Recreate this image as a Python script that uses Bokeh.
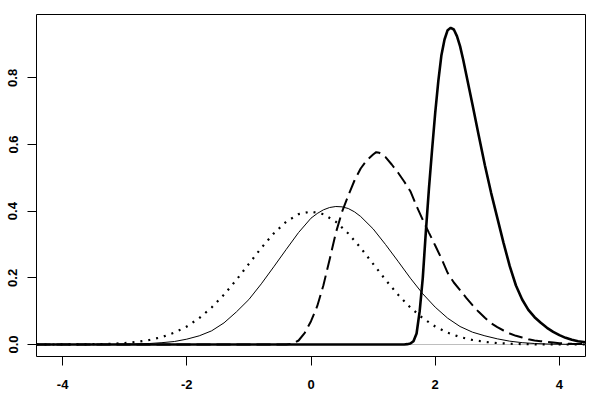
from bokeh.plotting import figure
from bokeh.models import FixedTicker, Range1d, Span
from bokeh.embed import file_html
from bokeh.resources import INLINE

# --- data ---
x_dotted = [-4.42, -4.0, -3.8, -3.6, -3.4, -3.2, -3.0, -2.8, -2.6, -2.4, -2.2, -2.0, -1.8, -1.6, -1.4,
            -1.2, -1.0, -0.8, -0.6, -0.4, -0.2, 0.0, 0.2, 0.4, 0.6, 0.8, 1.0, 1.2, 1.4, 1.6, 1.8,
            2.0, 2.2, 2.4, 2.6, 2.8, 3.0, 3.2, 3.4, 3.6, 3.8, 4.0, 4.42]
y_dotted = [0.0, 0.0001, 0.0003, 0.0006, 0.0012, 0.0024, 0.0044, 0.0079, 0.0136, 0.0224, 0.0355, 0.054,
            0.079, 0.1109, 0.1497, 0.1942, 0.242, 0.2897, 0.3332, 0.3683, 0.391, 0.3989, 0.391, 0.3683,
            0.3332, 0.2897, 0.242, 0.1942, 0.1497, 0.1109, 0.079, 0.054, 0.0355, 0.0224, 0.0136, 0.0079,
            0.0044, 0.0024, 0.0012, 0.0006, 0.0003, 0.0001, 0.0]

x_thin = [-4.42, -3.2, -3.0, -2.8, -2.6, -2.4, -2.2, -2.0, -1.8, -1.6, -1.4, -1.2, -1.0, -0.8, -0.6,
          -0.4, -0.2, 0.0, 0.1, 0.2, 0.3, 0.4, 0.5, 0.6, 0.7, 0.8, 1.0, 1.2, 1.4, 1.6, 1.8, 2.0,
          2.2, 2.4, 2.6, 2.8, 3.0, 3.2, 3.4, 3.6, 3.8, 4.0, 4.2, 4.42]
y_thin = [0.0, 0.0003, 0.0008, 0.0016, 0.003, 0.0055, 0.009, 0.016, 0.026, 0.041, 0.065, 0.098,
          0.135, 0.182, 0.233, 0.285, 0.336, 0.379, 0.393, 0.404, 0.411, 0.414, 0.413, 0.408,
          0.398, 0.384, 0.347, 0.3, 0.25, 0.199, 0.152, 0.112, 0.079, 0.054, 0.037, 0.026, 0.017,
          0.010, 0.0055, 0.003, 0.0015, 0.0008, 0.0004, 0.0002]

x_dashed = [-4.42, -0.4, -0.3, -0.2, -0.1, 0.0, 0.1, 0.2, 0.3, 0.4, 0.5, 0.6, 0.7, 0.8, 0.9, 1.0,
            1.05, 1.1, 1.2, 1.3, 1.4, 1.5, 1.6, 1.7, 1.8, 1.9, 2.0, 2.1, 2.2, 2.3, 2.4, 2.5, 2.6,
            2.7, 2.8, 2.9, 3.0, 3.1, 3.2, 3.3, 3.4, 3.5, 3.6, 3.7, 3.8, 3.9, 4.0, 4.2, 4.42]
y_dashed = [0.0, 0.0, 0.002, 0.012, 0.035, 0.07, 0.115, 0.178, 0.255, 0.335, 0.398, 0.447, 0.492,
            0.528, 0.553, 0.570, 0.577, 0.575, 0.562, 0.540, 0.516, 0.489, 0.46, 0.415, 0.374, 0.335,
            0.297, 0.258, 0.215, 0.186, 0.163, 0.14, 0.118, 0.098, 0.08, 0.064, 0.052, 0.042, 0.033,
            0.026, 0.021, 0.016, 0.012, 0.01, 0.008, 0.006, 0.004, 0.002, 0.001]

x_thick = [-4.42, 1.5, 1.55, 1.6, 1.65, 1.7, 1.75, 1.8, 1.85, 1.9, 1.95, 2.0, 2.05, 2.1, 2.15,
           2.2, 2.25, 2.3, 2.35, 2.4, 2.45, 2.5, 2.55, 2.6, 2.7, 2.8, 2.9, 3.0, 3.1, 3.2, 3.3, 3.4,
           3.5, 3.6, 3.7, 3.8, 3.9, 4.0, 4.1, 4.2, 4.3, 4.42]
y_thick = [0.0, 0.0, 0.001, 0.003, 0.01, 0.033, 0.1, 0.2, 0.34, 0.47, 0.585, 0.695, 0.79,
           0.868, 0.915, 0.943, 0.95, 0.945, 0.925, 0.895, 0.855, 0.81, 0.765, 0.72, 0.628, 0.538,
           0.455, 0.38, 0.305, 0.235, 0.177, 0.135, 0.104, 0.082, 0.065, 0.05, 0.038, 0.028, 0.02,
           0.014, 0.01, 0.007]

x_ticks = [-4, -2, 0, 2, 4]
x_tick_labels = ["-4", "-2", "0", "2", "4"]
y_ticks = [0.0, 0.2, 0.4, 0.6, 0.8]
y_tick_labels = ["0.0", "0.2", "0.4", "0.6", "0.8"]

p = figure(width=600, height=400, output_backend="svg", toolbar_location=None,
           x_range=Range1d(-4.42, 4.42), y_range=Range1d(-0.036, 0.99),
           min_border_left=36, min_border_right=15, min_border_top=14, min_border_bottom=44)
p.background_fill_color = "white"
p.border_fill_color = "white"
p.outline_line_color = "black"
p.outline_line_width = 1
p.xgrid.visible = False
p.ygrid.visible = False

p.add_layout(Span(location=0, dimension="width", line_color="#bebebe", line_width=1, level="underlay"))

p.line(x_dotted, y_dotted, line_color="black", line_width=2.2, line_dash="2 6")
p.line(x_thin, y_thin, line_color="black", line_width=1)
p.line(x_dashed, y_dashed, line_color="black", line_width=2, line_dash="14 6")
p.line(x_thick, y_thick, line_color="black", line_width=2.6)

for ax, ticks, labels in ((p.xaxis, x_ticks, x_tick_labels), (p.yaxis, y_ticks, y_tick_labels)):
    ax.ticker = FixedTicker(ticks=ticks)
    ax.major_label_overrides = {t: l for t, l in zip(ticks, labels)}
    ax.axis_line_color = None
    ax.major_tick_line_color = "black"
    ax.major_tick_out = 9
    ax.major_tick_in = 0
    ax.minor_tick_line_color = None
    ax.major_label_text_font = "Liberation Sans"
    ax.major_label_text_font_style = "bold"
    ax.major_label_text_font_size = "13px"
    ax.major_label_text_color = "black"

p.xaxis.major_label_standoff = 14
p.yaxis.major_label_standoff = 10
p.yaxis.major_label_orientation = "vertical"

open("out.html", "w").write(file_html(p, INLINE))
